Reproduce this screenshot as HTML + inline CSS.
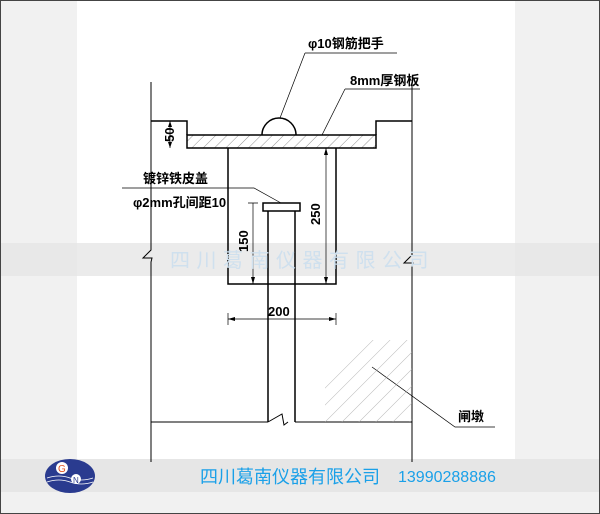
<!DOCTYPE html>
<html><head><meta charset="utf-8"><style>
body{margin:0;width:600px;height:514px;overflow:hidden;background:#fff}
svg{display:block}
text{font-family:"Liberation Sans","Noto Sans CJK SC",sans-serif}
</style></head><body>
<svg width="600" height="514" viewBox="0 0 600 514" xmlns="http://www.w3.org/2000/svg">
<defs>
<pattern id="h" width="8" height="8" patternUnits="userSpaceOnUse" patternTransform="rotate(45)"><line x1="0" y1="0" x2="0" y2="8" stroke="#777" stroke-width="0.8"/></pattern>
<pattern id="h2" width="12" height="12" patternUnits="userSpaceOnUse" patternTransform="rotate(45)"><line x1="0" y1="0" x2="0" y2="12" stroke="#aaa" stroke-width="0.8"/></pattern>
</defs>
<rect x="0" y="0" width="77" height="514" fill="#f1f1f1"/>
<rect x="515" y="0" width="85" height="514" fill="#f1f1f1"/>
<rect x="0" y="243" width="600" height="33" fill="#e6e6e6" opacity="0.8"/>
<rect x="0" y="459" width="600" height="33" fill="#e6e6e6"/>
<rect x="0" y="492" width="600" height="22" fill="#f1f1f1"/>
<rect x="0.5" y="0.5" width="599" height="513" fill="none" stroke="#444"/>
<g stroke="#000" fill="none" stroke-width="1">
<path d="M151 82V250l-8 8h9l-1 4V462"/>
<path d="M412 82V255l-8 8h9l-1 4V462"/>
<path d="M151 422H268M295 422H412" />
<path d="M268 422l14-8l2 11l4-3" stroke-width="1"/>
<path d="M151 121H187V135M376 135V121H412" stroke-width="1.5"/>
<rect x="187" y="135" width="189" height="13" fill="url(#h)" stroke-width="1.5"/>
<path d="M262 135a17 17 0 0 1 34 0" stroke-width="1.5"/>
<path d="M228 148V284H336V148" stroke-width="1.5"/>
<path d="M268 211V422M295 211V422" stroke-width="1.5"/>
<rect x="263" y="203" width="37" height="8" stroke-width="1.5" fill="#fff"/>
<path d="M170 121V148M165 121H175" stroke-width="0.7"/>
<path d="M326 148V284" stroke-width="0.7"/>
<path d="M253 203V284M248 203H258" stroke-width="0.7"/>
<path d="M228 319H336M228 313V325M336 313V325" stroke-width="0.7"/>
<path d="M305 53H397M305 53L280 118" stroke-width="0.7"/>
<path d="M345 89H420M345 89L322 135" stroke-width="0.7"/>
<path d="M122 188H254L281 203" stroke-width="0.7"/>
<path d="M495 427H455L372 367" stroke-width="0.7"/>
</g>
<g fill="#000">
<path d="M326 148l-2 7h4z M326 284l-2-7h4z M253 284l-2-7h4z M228 319l7-2v4z M336 319l-7-2v4z M170 121l-2 6h4z M170 148l-2-6h4z"/>
</g>
<polygon points="325,422 325,380 372,340 412,340 412,422" fill="url(#h2)"/>
<g font-weight="bold" font-size="13" fill="#000">
<text x="308" y="48">φ10钢筋把手</text>
<text x="350" y="85">8mm厚钢板</text>
<text x="143" y="183">镀锌铁皮盖</text>
<text x="133" y="207">φ2mm孔间距10</text>
<text x="458" y="421">闸墩</text>
<text x="268" y="316">200</text>
<text transform="translate(320,225) rotate(-90)">250</text>
<text transform="translate(248,252) rotate(-90)">150</text>
<text transform="translate(174,142) rotate(-90)">50</text>
</g>
<text x="170" y="267" font-size="20" fill="#cfe0ee" letter-spacing="6.5">四川葛南仪器有限公司</text>
<text x="200" y="483" font-size="18" fill="#1aa0e8">四川葛南仪器有限公司</text>
<text x="398" y="482" font-size="16" fill="#1aa0e8">13990288886</text>
<ellipse cx="70" cy="476" rx="25" ry="17" fill="#2a3b8f"/>
<path d="M47 478q12-4 23 0t23 0M47 482q12-4 23 0t23 0" stroke="#fff" stroke-width="0.8" fill="none"/>
<circle cx="62" cy="468" r="6" fill="#fff"/>
<text x="58" y="472" font-size="10" fill="#e05020">G</text>
<circle cx="76" cy="479" r="5" fill="#fff"/>
<text x="73" y="483" font-size="8" fill="#2a3b8f">N</text>
</svg>
</body></html>
